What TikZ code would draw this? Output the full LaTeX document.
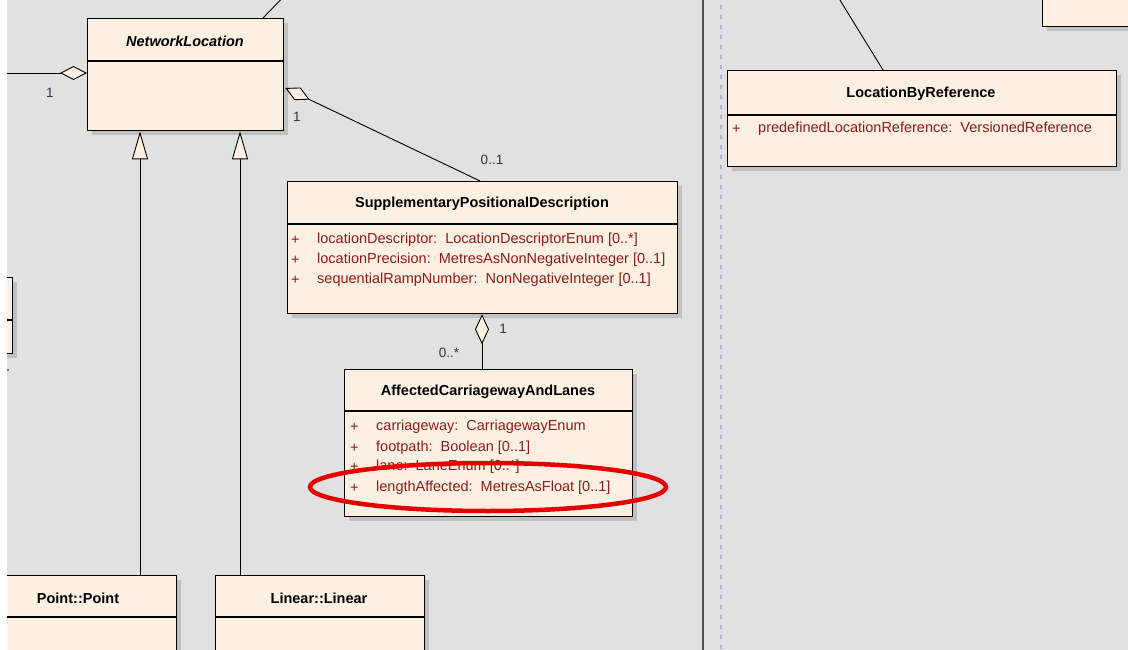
\documentclass[tikz,border=0pt]{standalone}
\usepackage{fontspec}
\setmainfont{Liberation Sans}
\usetikzlibrary{arrows.meta,calc,shadows}
\definecolor{bg}{RGB}{225,225,225}
\definecolor{cream}{RGB}{251,240,226}
\definecolor{attrred}{RGB}{140,28,28}
\definecolor{shad}{RGB}{192,192,192}
\definecolor{lbl}{RGB}{50,50,60}
\definecolor{dashc}{RGB}{176,176,214}
\definecolor{divc}{RGB}{80,80,80}
\tikzset{
  cls/.style={draw=black, line width=1.3pt, fill=cream, anchor=north west, inner sep=0pt,
    drop shadow={shadow xshift=4pt, shadow yshift=-4pt, fill=shad, opacity=1}},
  sep/.style={draw=black, line width=1.2pt},
  ttl/.style={font=\fontsize{14.5}{17}\selectfont\bfseries, text=black, inner sep=0pt},
  attr/.style={font=\fontsize{14.5}{17}\selectfont, text=attrred, anchor=west, inner sep=0pt},
  lbl/.style={font=\fontsize{13.5}{16}\selectfont, text=lbl, inner sep=0pt},
  conn/.style={draw=black, line width=0.9pt},
  agg/.style={conn, -{Diamond[open, fill=cream, length=#1, width=14pt, line width=0.9pt]}},
  gen/.style={conn, -{Triangle[open, fill=cream, length=28pt, width=16pt, line width=0.9pt]}},
}
\begin{document}
\begin{tikzpicture}[x=1pt,y=-1pt]
\useasboundingbox (0,0) rectangle (1128,650);
\fill[white] (0,0) rectangle (1128,650);
\fill[bg] (7,0) rectangle (1128,650);
\begin{scope}
\clip (7,0) rectangle (1128,650);
% dividers
\draw[divc, line width=1.6pt] (703,-5) -- (703,655);
\draw[dashc, line width=1.2pt, dash pattern=on 4pt off 6pt] (721,-5) -- (721,655);

% boxes
\node[cls, minimum width=196pt, minimum height=112pt] (nl) at (87,18) {};
\draw[sep] (87,61) -- (283,61);
\node[ttl, font=\fontsize{14.5}{17}\selectfont\bfseries\itshape] (nlt) at (185,41) {NetworkLocation};

\node[cls, minimum width=390pt, minimum height=132pt] (spd) at (287,181) {};
\draw[sep] (287,224) -- (677,224);
\node[ttl] (spdt) at (482,204) {SupplementaryPositionalDescription};
\node[attr] (spdp1) at (291,240) {+};
\node[attr] (spda1) at (317,240) {locationDescriptor:\ \ LocationDescriptorEnum [0..*]};
\node[attr] (spdp2) at (291,260) {+};
\node[attr] (spda2) at (317,260) {locationPrecision:\ \ MetresAsNonNegativeInteger [0..1]};
\node[attr] (spdp3) at (291,280) {+};
\node[attr] (spda3) at (317,280) {sequentialRampNumber:\ \ NonNegativeInteger [0..1]};

\node[cls, minimum width=288pt, minimum height=147pt] (acl) at (344,369) {};
\draw[sep] (344,411) -- (632,411);
\node[ttl] (aclt) at (488,392) {AffectedCarriagewayAndLanes};
\node[attr] (aclp1) at (350,427) {+};
\node[attr] (acla1) at (376,427) {carriageway:\ \ CarriagewayEnum};
\node[attr] (aclp2) at (350,448) {+};
\node[attr] (acla2) at (376,448) {footpath:\ \ Boolean [0..1]};
\node[attr] (aclp3) at (350,467) {+};
\node[attr] (acla3) at (376,467) {lane:\ \ LaneEnum [0..*]};
\node[attr] (aclp4) at (350,488) {+};
\node[attr] (acla4) at (376,488) {lengthAffected:\ \ MetresAsFloat [0..1]};

\node[cls, minimum width=389pt, minimum height=96pt] (lbr) at (727,70) {};
\draw[sep] (727,115) -- (1116,115);
\node[ttl] (lbrt) at (921,94) {LocationByReference};
\node[attr] (lbrp1) at (732,129) {+};
\node[attr] (lbra1) at (758,129) {predefinedLocationReference:\ \ VersionedReference};

\node[cls, minimum width=100pt, minimum height=46pt] (tr) at (1042,-20) {};

\node[cls, minimum width=40pt, minimum height=76pt] (lb) at (-28,277) {};
\draw[sep] (-28,320) -- (12,320);

\node[cls, minimum width=189pt, minimum height=100pt] (pt) at (-13,575) {};
\draw[sep] (-13,617) -- (176,617);
\node[ttl] (ptt) at (78,598) {Point::Point};

\node[cls, minimum width=209pt, minimum height=100pt] (ln) at (215,575) {};
\draw[sep] (215,617) -- (424,617);
\node[ttl] (lnt) at (319,598) {Linear::Linear};

% connectors
\coordinate (f1) at (-5,73);
\draw[agg=27pt] (f1) -- (f1 -| nl.west);
\node[lbl] (l1) at (50,93) {1};

\coordinate (f2) at (292,-12);
\draw[conn] ($(nl.north west)+(176,0)$) -- (f2);

\draw[agg=27pt] ($(spd.north west)+(193,0)$) -- ($(nl.north east)+(1,70)$);
\node[lbl] (l2) at (297,117) {1};
\node[lbl] (l3) at (492,160) {0..1};

\draw[agg=30pt] (acl.north -| 482,0) -- (spd.south -| 482,0);
\node[lbl] (l4) at (503,329) {1};
\node[lbl] (l5) at (449,353) {0..*};

\draw[gen] (pt.north -| 140,0) -- (nl.south -| 140,0);
\draw[gen] (ln.north -| 240,0) -- (nl.south -| 240,0);

\coordinate (f3) at (835,-8);
\draw[conn] (lbr.north -| 883,0) -- (f3);

\fill[lbl] (8,370) circle (0.8pt);

% highlight
\draw[red!90!black, line width=4.5pt] (488,487) ellipse [x radius=178, y radius=24];
\end{scope}
\end{tikzpicture}
\end{document}
